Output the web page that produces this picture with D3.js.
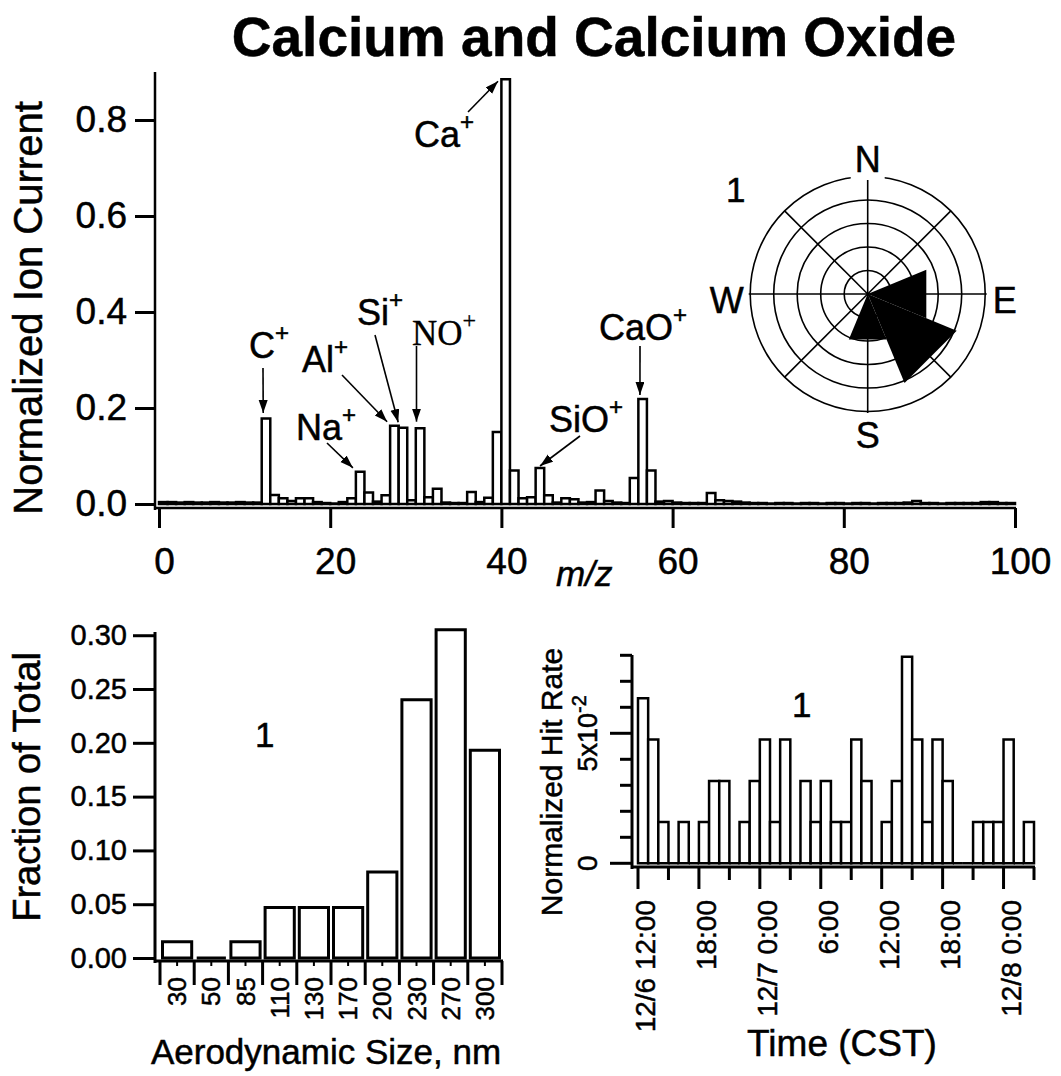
<!DOCTYPE html>
<html>
<head>
<meta charset="utf-8">
<script src="https://cdn.jsdelivr.net/npm/d3@7"></script>
<style>
body { margin: 0; background: #fff; }
svg { display: block; }
text { font-family: "Liberation Sans", Arial, sans-serif; fill: #000; stroke: #000; stroke-width: 0.5px; }
</style>
</head>
<body>
<svg width="1061" height="1076"></svg>
<script>
// ---------- data ----------
// mass spectrum, index = m/z (0..99)
const mzValues = [
  0.004, 0.004, 0.003, 0.004, 0.003, 0.003, 0.004, 0.003, 0.003, 0.004,
  0.003, 0.003, 0.178, 0.019, 0.012, 0.006, 0.012, 0.012, 0.004, 0.002,
  0.001, 0.004, 0.012, 0.067, 0.024, 0.005, 0.018, 0.163, 0.159, 0.008,
  0.158, 0.014, 0.032, 0.003, 0.002, 0.002, 0.025, 0.004, 0.013, 0.150,
  0.885, 0.070, 0.012, 0.014, 0.075, 0.018, 0.003, 0.012, 0.010, 0.003,
  0.004, 0.028, 0.006, 0.003, 0.002, 0.054, 0.219, 0.070, 0.005, 0.006,
  0.003, 0.002, 0.002, 0.002, 0.023, 0.008, 0.006, 0.005, 0.003, 0.002,
  0.002, 0.001, 0.002, 0.002, 0.001, 0.002, 0.002, 0.001, 0.002, 0.002,
  0.001, 0.002, 0.002, 0.001, 0.002, 0.002, 0.002, 0.003, 0.006, 0.002,
  0.002, 0.001, 0.002, 0.002, 0.002, 0.002, 0.004, 0.004, 0.002, 0.002
];
const ionNames = ["C", "Na", "Al", "Si", "NO", "Ca", "SiO", "CaO"];
const ionMz = [12, 23, 27, 28, 30, 40, 44, 56];

// wind rose
const windDirs = ["N", "NE", "E", "SE", "S", "SW", "W", "NW"];
const windValues = [0, 0, 0.27, 0.41, 0.21, 0, 0, 0];

// size distribution
const sizeBins = ["30", "50", "85", "110", "130", "170", "200", "230", "270", "300"];
const sizeFractions = [0.015, 0, 0.015, 0.047, 0.047, 0.047, 0.080, 0.240, 0.305, 0.193];

// hourly hit rate from 12/6 12:00
const hitStart = new Date(2000, 11, 6, 12);
const hitEnd = new Date(2000, 11, 8, 3);
const hitRates = [
  0.0635, 0.0476, 0.0159, 0, 0.0159, 0, 0.0159, 0.0317, 0.0317, 0,
  0.0159, 0.0317, 0.0476, 0.0159, 0.0476, 0, 0.0317, 0.0159, 0.0317, 0.0159,
  0.0159, 0.0476, 0.0317, 0, 0.0159, 0.0317, 0.0794, 0.0476, 0.0159, 0.0476,
  0.0317, 0, 0, 0.0159, 0.0159, 0.0159, 0.0476, 0, 0.0159
];

// ---------- helpers ----------
const svg = d3.select("svg");

function barPath(x0, x1, y0, y1) {
  return `M${x0},${y0}V${y1}H${x1}V${y0}Z`;
}

function styleAxis(g, size) {
  g.select(".domain").remove();
  g.attr("font-family", null).attr("font-size", size);
  g.selectAll(".tick line").attr("stroke", "#000").attr("stroke-width", 3);
  g.selectAll(".tick text").attr("fill", "#000");
}

svg.append("defs").append("marker")
  .attr("id", "arrow")
  .attr("markerUnits", "userSpaceOnUse")
  .attr("markerWidth", 14).attr("markerHeight", 10)
  .attr("refX", 13).attr("refY", 4.5)
  .attr("orient", "auto")
  .append("path").attr("d", "M0,0L13,4.5L0,9Z").attr("fill", "#000");

// ---------- title ----------
svg.append("text")
  .attr("x", 594).attr("y", 56)
  .attr("text-anchor", "middle")
  .attr("font-size", 55).attr("font-weight", "bold")
  .text("Calcium and Calcium Oxide");

// ---------- top: mass spectrum ----------
const xMz = d3.scaleLinear().domain([0, 100]).range([159, 1015]);
const yIon = d3.scaleLinear().domain([0, 0.9]).range([504, 72]);
const specG = svg.append("g");

specG.append("g").selectAll("path")
  .data(mzValues)
  .join("path")
  .attr("d", (d, i) => barPath(xMz(i), xMz(i + 1), yIon(0), yIon(d)))
  .attr("fill", "#fff").attr("stroke", "#000").attr("stroke-width", 2.5);

specG.append("line").attr("x1", 155).attr("x2", 155).attr("y1", 72).attr("y2", 510)
  .attr("stroke", "#000").attr("stroke-width", 2.5);
specG.append("line").attr("x1", 155).attr("x2", 1016).attr("y1", 508).attr("y2", 508)
  .attr("stroke", "#000").attr("stroke-width", 2.5);

specG.append("g").attr("transform", "translate(155,0)")
  .call(d3.axisLeft(yIon).tickValues([0, 0.2, 0.4, 0.6, 0.8]).tickFormat(d3.format(".1f"))
    .tickSize(20).tickPadding(8))
  .call(g => styleAxis(g, 37));

specG.append("g").attr("transform", "translate(0,508)")
  .call(d3.axisBottom(xMz).tickValues([0, 20, 40, 60, 80, 100]).tickSize(20).tickPadding(20))
  .call(g => styleAxis(g, 37))
  .call(g => g.selectAll(".tick text").attr("dx", 5));

specG.append("text")
  .attr("transform", "translate(42,308) rotate(-90)")
  .attr("text-anchor", "middle").attr("font-size", 40)
  .text("Normalized Ion Current");

specG.append("text")
  .attr("x", 556).attr("y", 586)
  .attr("font-size", 35).attr("font-style", "italic")
  .text("m/z");

// ion labels: text position, arrow tail, arrow tip offset from bar corner
const ionLayout = [
  { tx: 249, ty: 358, ax: 263, ay: 368, dx: 1.5, dy: -5.5 },
  { tx: 296, ty: 440, ax: 327, ay: 443, dx: -3, dy: -4 },
  { tx: 302, ty: 372, ax: 342, ay: 375, dx: -3, dy: -4 },
  { tx: 357, ty: 325, ax: 375, ay: 335, dx: -0.5, dy: -5.5 },
  { tx: 412, ty: 345, ax: 416.5, ay: 346, dx: 0.7, dy: -6.5, serif: true },
  { tx: 414, ty: 147, ax: 468, ay: 112, dx: -3.4, dy: 2 },
  { tx: 549, ty: 432, ax: 580, ay: 436, dx: 4.4, dy: -2 },
  { tx: 599, ty: 340, ax: 640, ay: 346, dx: 1.6, dy: -4 }
];

ionNames.forEach((name, i) => {
  const L = ionLayout[i];
  const t = specG.append("text")
    .attr("x", L.tx).attr("y", L.ty)
    .attr("font-size", L.serif ? 35 : 36);
  if (L.serif) t.style("font-family", "'Liberation Serif', 'Times New Roman', serif").style("stroke-width", "0.3px");
  t.append("tspan").text(name);
  t.append("tspan").attr("dy", -17).attr("font-size", 24).text("+");

  const v = mzValues[ionMz[i]];
  specG.append("line")
    .attr("x1", L.ax).attr("y1", L.ay)
    .attr("x2", xMz(ionMz[i]) + L.dx).attr("y2", yIon(v) + L.dy)
    .attr("stroke", "#000").attr("stroke-width", 1.6)
    .attr("marker-end", "url(#arrow)");
});

// ---------- wind rose ----------
const rose = svg.append("g").attr("transform", "translate(867.7,294)");
const rWind = d3.scaleLinear().domain([0, 0.5]).range([0, 117.5]);
const ringValues = [0.1, 0.2, 0.3, 0.4, 0.5];

rose.selectAll("circle")
  .data(ringValues)
  .join("circle")
  .attr("r", d => rWind(d))
  .attr("fill", "none").attr("stroke", "#000").attr("stroke-width", 1.6);

windDirs.forEach((d, i) => {
  const a = i * Math.PI / 4;
  const len = i % 2 === 0 ? 119 : rWind(0.5);
  rose.append("line")
    .attr("x1", 0).attr("y1", 0)
    .attr("x2", Math.sin(a) * len).attr("y2", -Math.cos(a) * len)
    .attr("stroke", "#000").attr("stroke-width", 1.6);
});

rose.selectAll("path.wedge")
  .data(windValues)
  .join("path")
  .attr("class", "wedge")
  .attr("d", (v, i) => {
    const a0 = (i * 45 - 22.5) * Math.PI / 180;
    const a1 = (i * 45 + 22.5) * Math.PI / 180;
    const r = rWind(v);
    return `M0,0L${Math.sin(a0) * r},${-Math.cos(a0) * r}L${Math.sin(a1) * r},${-Math.cos(a1) * r}Z`;
  })
  .attr("fill", "#000");

rose.append("rect").attr("x", -17).attr("y", -150).attr("width", 34).attr("height", 36).attr("fill", "#fff");
const compass = [
  { t: "N", x: 0, y: -122, a: "middle" },
  { t: "E", x: 125, y: 19, a: "start" },
  { t: "S", x: 0, y: 154, a: "middle" },
  { t: "W", x: -124, y: 19, a: "end" }
];
rose.selectAll("text.dir")
  .data(compass)
  .join("text")
  .attr("class", "dir")
  .attr("x", d => d.x).attr("y", d => d.y)
  .attr("text-anchor", d => d.a)
  .attr("font-size", 36)
  .text(d => d.t);

svg.append("text").attr("x", 726).attr("y", 202).attr("font-size", 35).text("1");

// ---------- bottom left: size distribution ----------
const xSize = d3.scaleBand().domain(sizeBins).range([160, 502]);
const ySize = d3.scaleLinear().domain([0, 0.303]).range([958, 632]);
const hist = svg.append("g");

hist.append("g").selectAll("path")
  .data(sizeFractions)
  .join("path")
  .attr("d", (d, i) => {
    const x0 = xSize(sizeBins[i]);
    return barPath(x0 + 2.5, x0 + xSize.bandwidth() - 2.5, ySize(0), ySize(d));
  })
  .attr("fill", "#fff").attr("stroke", "#000").attr("stroke-width", 3);

hist.append("line").attr("x1", 155).attr("x2", 155).attr("y1", 632).attr("y2", 963)
  .attr("stroke", "#000").attr("stroke-width", 3);
hist.append("line").attr("x1", 155).attr("x2", 503).attr("y1", 961).attr("y2", 961)
  .attr("stroke", "#000").attr("stroke-width", 3);

hist.append("g").attr("transform", "translate(155,0)")
  .call(d3.axisLeft(ySize).tickValues([0, 0.05, 0.10, 0.15, 0.20, 0.25, 0.30])
    .tickFormat(d3.format(".2f")).tickSize(22).tickPadding(6))
  .call(g => styleAxis(g, 29));

const sizeEdges = sizeBins.map(b => xSize(b)).concat([xSize.range()[1]]);
hist.selectAll("line.edge")
  .data(sizeEdges)
  .join("line")
  .attr("class", "edge")
  .attr("x1", d => d).attr("x2", d => d)
  .attr("y1", 961).attr("y2", 985)
  .attr("stroke", "#000").attr("stroke-width", 3);
hist.selectAll("line.mid")
  .data(sizeBins)
  .join("line")
  .attr("class", "mid")
  .attr("x1", d => xSize(d) + xSize.bandwidth() / 2).attr("x2", d => xSize(d) + xSize.bandwidth() / 2)
  .attr("y1", 961).attr("y2", 966)
  .attr("stroke", "#000").attr("stroke-width", 2);
hist.selectAll("text.cat")
  .data(sizeBins)
  .join("text")
  .attr("class", "cat")
  .attr("transform", d => `translate(${xSize(d) + xSize.bandwidth() / 2},977) rotate(-90)`)
  .attr("text-anchor", "end").attr("dy", "0.35em")
  .attr("font-size", 26)
  .text(d => d);

hist.append("text")
  .attr("transform", "translate(40,787) rotate(-90)")
  .attr("text-anchor", "middle").attr("font-size", 38)
  .text("Fraction of Total");
hist.append("text")
  .attr("x", 326).attr("y", 1064)
  .attr("text-anchor", "middle").attr("font-size", 35)
  .text("Aerodynamic Size, nm");
hist.append("text").attr("x", 255).attr("y", 747).attr("font-size", 35).text("1");

// ---------- bottom right: hit rate vs time ----------
const xTime = d3.scaleTime().domain([hitStart, hitEnd]).range([638, 1034]);
const yHit = d3.scaleLinear().domain([0, 0.08]).range([863.3, 655.3]);
const ts = svg.append("g");

ts.append("g").selectAll("path")
  .data(hitRates)
  .join("path")
  .attr("d", (d, i) => {
    const t0 = d3.timeHour.offset(hitStart, i);
    const t1 = d3.timeHour.offset(hitStart, i + 1);
    return barPath(xTime(t0), xTime(t1), yHit(0), yHit(d));
  })
  .attr("fill", "#fff").attr("stroke", "#000").attr("stroke-width", 2.5);

ts.append("line").attr("x1", 632).attr("x2", 632).attr("y1", 655).attr("y2", 869)
  .attr("stroke", "#000").attr("stroke-width", 3);
ts.append("line").attr("x1", 632).attr("x2", 1035).attr("y1", 867).attr("y2", 867)
  .attr("stroke", "#000").attr("stroke-width", 3);

const hitTicks = [0, 0.01, 0.02, 0.03, 0.04, 0.05, 0.06, 0.07, 0.08];
ts.selectAll("line.ytick")
  .data(hitTicks)
  .join("line")
  .attr("class", "ytick")
  .attr("x1", d => (d === 0 || d === 0.05) ? 610 : 620).attr("x2", 632)
  .attr("y1", d => yHit(d)).attr("y2", d => yHit(d))
  .attr("stroke", "#000").attr("stroke-width", 3);

ts.append("text")
  .attr("transform", `translate(597,${yHit(0)}) rotate(-90)`)
  .attr("text-anchor", "middle").attr("font-size", 28)
  .text("0");
const lbl5 = ts.append("text")
  .attr("transform", `translate(597,${yHit(0.05)}) rotate(-90)`)
  .attr("text-anchor", "middle").attr("font-size", 27);
lbl5.append("tspan").text("5x10");
lbl5.append("tspan").attr("dy", -11).attr("font-size", 20).text("-2");

const timeTicks = d3.timeHour.every(3).range(hitStart, d3.timeHour.offset(hitEnd, 1));
ts.selectAll("line.xtick")
  .data(timeTicks)
  .join("line")
  .attr("class", "xtick")
  .attr("x1", d => xTime(d)).attr("x2", d => xTime(d))
  .attr("y1", 867).attr("y2", d => d.getHours() % 6 === 0 ? 889 : 880)
  .attr("stroke", "#000").attr("stroke-width", 3);

const fmtTime = d => {
  if (+d === +hitStart || d.getHours() === 0) return `${d.getMonth() + 1}/${d.getDate()} ${d.getHours()}:00`;
  return `${d.getHours()}:00`;
};
ts.selectAll("text.tlab")
  .data(timeTicks.filter(d => d.getHours() % 6 === 0))
  .join("text")
  .attr("class", "tlab")
  .attr("transform", d => `translate(${xTime(d)},900) rotate(-90)`)
  .attr("text-anchor", "end").attr("dy", "0.62em")
  .attr("font-size", 28)
  .text(fmtTime);

ts.append("text")
  .attr("transform", "translate(562,782) rotate(-90)")
  .attr("text-anchor", "middle").attr("font-size", 30)
  .text("Normalized Hit Rate");
ts.append("text")
  .attr("x", 842).attr("y", 1056)
  .attr("text-anchor", "middle").attr("font-size", 37)
  .text("Time (CST)");
ts.append("text").attr("x", 792).attr("y", 717).attr("font-size", 35).text("1");
</script>
</body>
</html>
